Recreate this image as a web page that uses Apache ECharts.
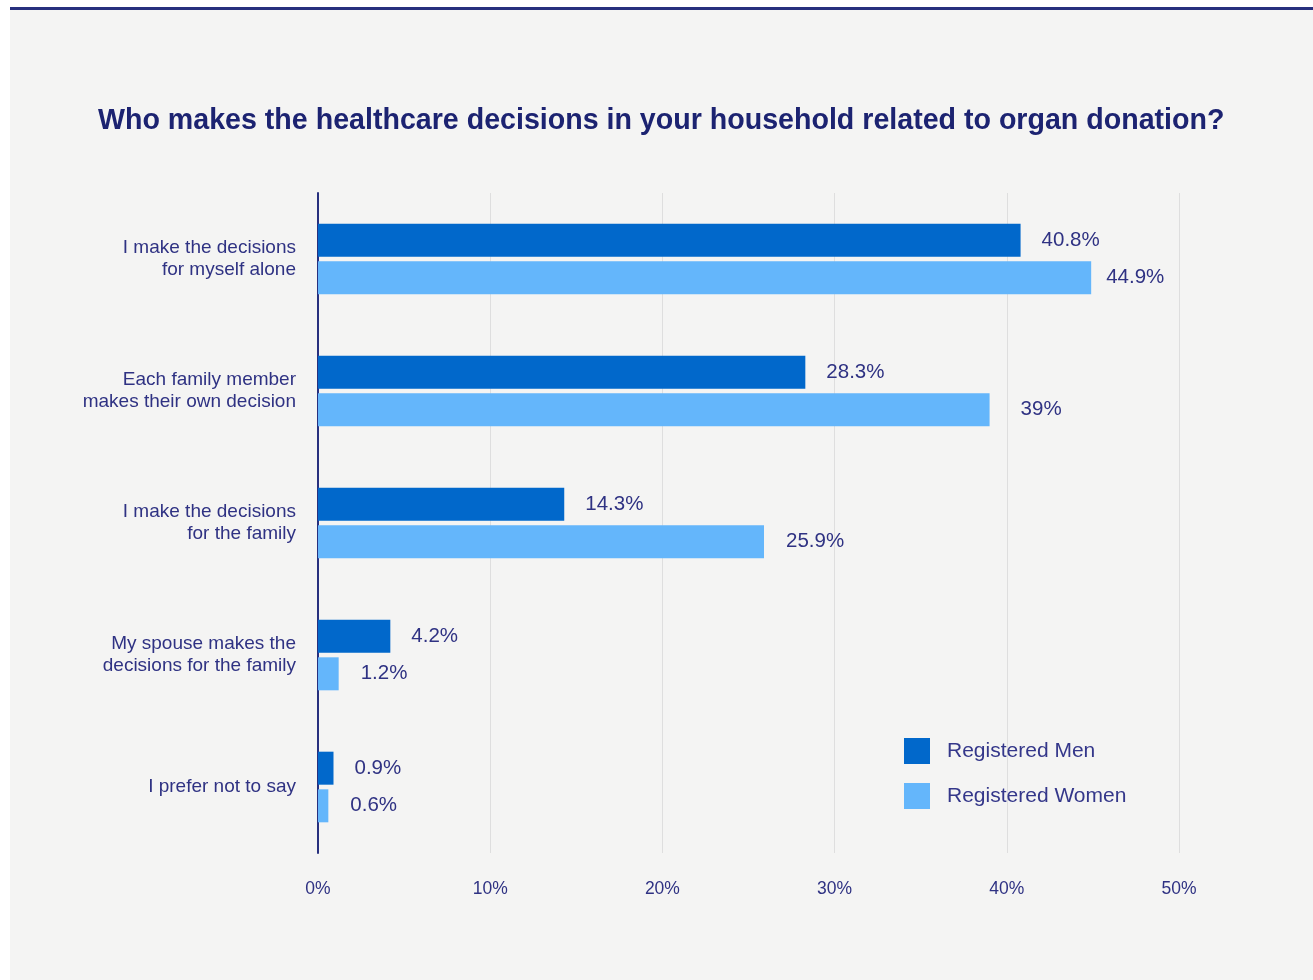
<!DOCTYPE html>
<html>
<head>
<meta charset="utf-8">
<script src="https://cdn.jsdelivr.net/npm/echarts@6/dist/echarts.min.js"></script>
<style>
  html, body { margin: 0; padding: 0; background: #ffffff; }
  #chart { width: 1313px; height: 980px; }
</style>
</head>
<body>
<div id="chart"></div>
<script>
// Survey answers, top to bottom
const categories = [
  'I make the decisions\nfor myself alone',
  'Each family member\nmakes their own decision',
  'I make the decisions\nfor the family',
  'My spouse makes the\ndecisions for the family',
  'I prefer not to say'
];
const menValues = [40.8, 28.3, 14.3, 4.2, 0.9];
const womenValues = [44.9, 39, 25.9, 1.2, 0.6];
const seriesNames = ['Registered Men', 'Registered Women'];
const xTicks = [0, 10, 20, 30, 40, 50];

const navy = '#1c2371';
const labelNavy = '#2f3283';
const font = 'Liberation Sans, Arial, sans-serif';

const chart = echarts.init(document.getElementById('chart'), null, { renderer: 'canvas' });

function valueLabel(distance) {
  return {
    show: true,
    position: 'right',
    distance: distance,
    fontFamily: font,
    fontSize: 20.5,
    color: labelNavy,
    formatter: p => p.value + '%'
  };
}

// A few labels sit a little closer to / farther from their bar end
const womenLabelGap = { 0: 15, 1: 31 };

const menData = menValues.map(v => ({ value: v }));
const womenData = womenValues.map((v, i) =>
  womenLabelGap[i] !== undefined ? { value: v, label: { distance: womenLabelGap[i] } } : { value: v }
);

chart.setOption({
  backgroundColor: '#f4f4f3',
  animation: false,
  graphic: [
    { type: 'rect', left: 0, top: 0, shape: { width: 10, height: 980 }, style: { fill: '#ffffff' }, z: -1 },
    { type: 'rect', left: 0, top: 0, shape: { width: 1313, height: 7 }, style: { fill: '#ffffff' }, z: -1 },
    { type: 'rect', left: 10, top: 7, shape: { width: 1303, height: 3 }, style: { fill: '#27307e' }, z: -1 }
  ],
  title: {
    text: 'Who makes the healthcare decisions in your household related to organ donation?',
    left: 93,
    top: 102,
    textStyle: {
      fontFamily: font,
      fontWeight: 'bold',
      fontSize: 28.6,
      color: navy
    }
  },
  legend: {
    orient: 'vertical',
    left: 899,
    top: 733,
    itemWidth: 26,
    itemHeight: 26,
    itemGap: 19,
    icon: 'rect',
    data: seriesNames,
    textStyle: {
      fontFamily: font,
      fontSize: 21,
      color: '#34378a',
      padding: [2, 0, 0, 12]
    }
  },
  grid: {
    left: 318,
    top: 193,
    width: 861,
    height: 660,
    containLabel: false
  },
  xAxis: {
    type: 'value',
    min: xTicks[0],
    max: xTicks[xTicks.length - 1],
    interval: 10,
    axisLine: { show: false },
    axisTick: { show: false },
    splitLine: { show: true, lineStyle: { color: '#dedede', width: 1 } },
    axisLabel: {
      margin: 27,
      fontFamily: font,
      fontSize: 17.5,
      color: '#2f3283',
      formatter: v => v + '%'
    }
  },
  yAxis: {
    type: 'category',
    inverse: true,
    data: categories,
    axisLine: { show: true, lineStyle: { color: '#27307e', width: 2 } },
    axisTick: { show: false },
    axisLabel: {
      margin: 22,
      fontFamily: font,
      fontSize: 19,
      lineHeight: 22,
      color: '#2f3283',
      align: 'right'
    }
  },
  series: [
    {
      name: seriesNames[0],
      type: 'bar',
      data: menData,
      barWidth: 33,
      barGap: '14%',
      itemStyle: { color: '#0168cb' },
      label: valueLabel(21)
    },
    {
      name: seriesNames[1],
      type: 'bar',
      data: womenData,
      barWidth: 33,
      barGap: '14%',
      itemStyle: { color: '#64b6fb' },
      label: valueLabel(22)
    }
  ]
});
</script>
</body>
</html>
